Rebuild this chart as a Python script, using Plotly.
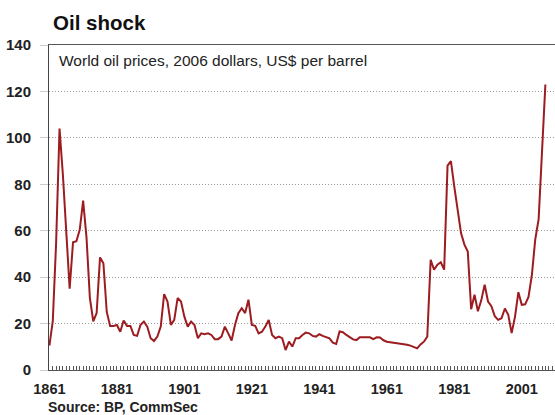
import plotly.graph_objects as go

years = list(range(1861, 2009))
prices = [
    10.5, 21, 55, 104, 84, 60, 35, 55, 55.5, 60.5,          # 1861-1870
    73, 57, 31, 21, 24.5, 48.5, 46, 25, 19, 19,             # 1871-1880
    19.4, 16.5, 21.3, 19, 19, 15.1, 14.7, 19.4, 20.9, 18.7, # 1881-1890
    13.7, 12.5, 14.4, 18.7, 32.7, 29.5, 19.4, 21.6, 31, 29.5, # 1891-1900
    23, 18.7, 20.9, 19.4, 13.7, 15.8, 15.4, 15.8, 15.1, 13.3, # 1901-1910
    13.3, 14.4, 18.7, 15.8, 12.7, 19.4, 24.5, 26.6, 24.5, 30.3, # 1911-1920
    19.4, 19, 15.8, 16.5, 18.7, 21.6, 15.1, 13.7, 14.4, 13.7, # 1921-1930
    8.6, 12.2, 10.1, 13.7, 13.7, 15.1, 16.1, 15.8, 14.7, 14.4, # 1931-1940
    15.4, 14.7, 14, 13.6, 11.8, 11.2, 16.6, 16.3, 15.1, 14.1, # 1941-1950
    13.2, 12.9, 14.1, 14.1, 14.1, 14.1, 13.3, 14.1, 14, 12.8, # 1951-1960
    12.2, 12, 11.9, 11.7, 11.5, 11.2, 10.9, 10.5, 10, 9.3,    # 1961-1970
    11, 12.2, 14.4, 47.5, 43.2, 45.4, 46.4, 43.2, 88, 90,     # 1971-1980
    79, 68.5, 59, 54, 51, 26.2, 32.4, 25.3, 30, 36.7,         # 1981-1990
    29.5, 27.5, 23.2, 21.6, 22.3, 26.5, 23.8, 15.9, 23, 33.5, # 1991-2000
    28.1, 28.3, 31.5, 41, 56.3, 65, 94, 123,                  # 2001-2008
]

x_tick_labels = [1861, 1881, 1901, 1921, 1941, 1961, 1981, 2001]
y_tick_values = [0, 20, 40, 60, 80, 100, 120, 140]

title_text = "Oil shock"
subtitle_text = "World oil prices, 2006 dollars, US$ per barrel"
source_text = "Source: BP, CommSec"

FONT = "Liberation Sans, Arial, sans-serif"

fig = go.Figure()
fig.add_trace(go.Scatter(
    x=years, y=prices, mode="lines",
    line=dict(color="#9c1c20", width=2),
    cliponaxis=False,
    hoverinfo="skip",
))

fig.update_layout(
    width=555, height=415,
    margin=dict(l=49, r=0, t=45, b=45, autoexpand=False),
    paper_bgcolor="white", plot_bgcolor="white",
    showlegend=False,
    font=dict(family=FONT, color="#222"),
    xaxis=dict(
        range=[1860.88, 2010.85],
        automargin=False,
        tickvals=x_tick_labels,
        ticktext=[str(v) for v in x_tick_labels],
        tickfont=dict(size=14.5, family=FONT, color="#222", weight="bold"),
        ticks="inside", ticklen=4, tickcolor="#555", tickwidth=1,
        minor=dict(dtick=1, tick0=1861, ticks="inside", ticklen=4, tickcolor="#555", tickwidth=1),
        showgrid=False, zeroline=False,
        showline=True, linecolor="#555", linewidth=1, mirror=True,
        ticklabelstandoff=6,
    ),
    yaxis=dict(
        range=[0, 140],
        automargin=False,
        tickvals=y_tick_values,
        tickfont=dict(size=15, family=FONT, color="#222", weight="bold"),
        ticks="outside", ticklen=8, tickcolor="#ccc", tickwidth=1,
        showgrid=True, gridcolor="#999", griddash="1px,2px", gridwidth=1,
        zeroline=False,
        showline=True, linecolor="#444", linewidth=1,
        ticklabelstandoff=6,
    ),
    annotations=[
        dict(text=title_text, xref="paper", yref="paper", x=0.004, y=1.069,
             xanchor="left", yanchor="middle", showarrow=False,
             font=dict(size=20.5, family=FONT, color="#111", weight="bold")),
        dict(text=subtitle_text, xref="paper", yref="paper", x=0.0155, y=0.951,
             xanchor="left", yanchor="middle", showarrow=False,
             font=dict(size=15.5, family=FONT, color="#222")),
        dict(text=source_text, xref="paper", yref="paper", x=-0.006, y=-0.114,
             xanchor="left", yanchor="middle", showarrow=False,
             font=dict(size=14, family=FONT, color="#222", weight="bold")),
    ],
)

fig.write_html(
    "out.html",
    config={"displayModeBar": False},
    post_script="document.body.style.margin='0';document.body.style.overflow='hidden';",
)
